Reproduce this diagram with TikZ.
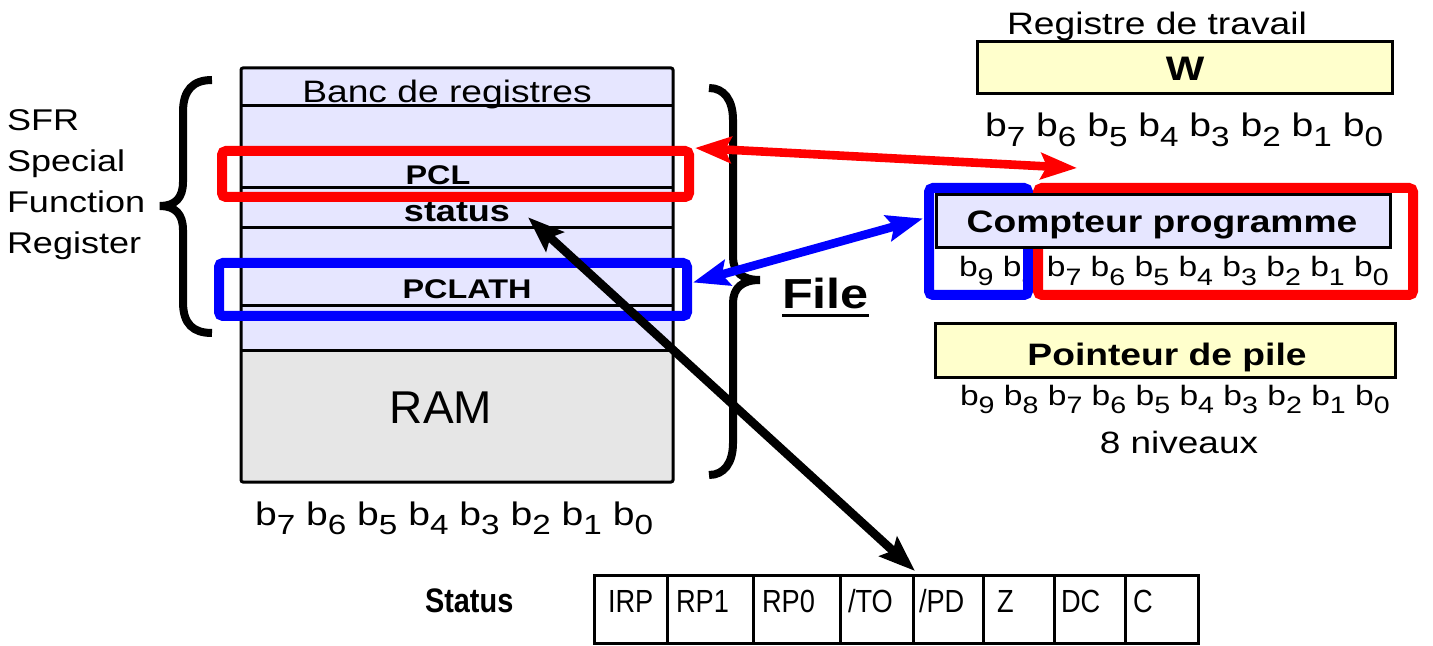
\documentclass[tikz,border=0pt]{standalone}
\usepackage{fontspec}
\usepackage{graphicx}
\setmainfont{Liberation Sans}[FakeStretch=1.2]
\newfontfamily\narrowfont{Liberation Sans}[FakeStretch=0.85]
\newfontfamily\plainfont{Liberation Sans}
\usetikzlibrary{arrows.meta,fit,calc}
\definecolor{lav}{HTML}{E6E6FF}
\definecolor{ramgrey}{HTML}{E6E6E6}
\definecolor{lightyel}{HTML}{FFFFCC}
\definecolor{pured}{HTML}{FF0000}
\definecolor{pureblue}{HTML}{0000FF}
% a bit name: b with its index as a subscript
\newcommand\bitb[1]{b\raisebox{-0.3em}{\scalebox{0.85}{#1}}}
\newcommand\fs[1]{\fontsize{#1pt}{#1pt}\selectfont}

\begin{document}
\begin{tikzpicture}[x=0.5pt,y=-0.5pt,
  txt/.style={inner sep=0pt, outer sep=0pt},
  regbox/.style={draw, line width=1.5pt, inner sep=0pt, outer sep=0pt},
  zone/.style={fill=#1, inner sep=0pt, outer sep=0pt},
  hilite/.style={draw=#1, line width=5pt, rounded corners=2pt, inner sep=0pt, outer sep=0pt},
  curly/.style={line width=4pt},
  rowsep/.style={line width=1.5pt},
  link/.style={draw=#1, line width=4.3pt,
    {Stealth[length=18pt,width=13pt,inset=3pt]}-{Stealth[length=18pt,width=13pt,inset=3pt]}},
]
\useasboundingbox (0,0) rectangle (1433,646);

% ---- register file ----
\node[zone=lav, fit={(241,68)(673,350)}] (sfrzone) {};
\node[zone=ramgrey, fit={(241,350)(673,482)}] (ramzone) {};
\node[regbox, rounded corners=1pt, fit={(241,68)(673,482)}] (banc) {};
\foreach \yy in {106,188,228,306,350}
  \draw[rowsep] (241,\yy) -- (673,\yy);

\node[txt, anchor=base, font=\fs{15.5}] (banctitle) at (447,103) {Banc de registres};
\node[txt, anchor=base, font=\bfseries\fs{13.5}] (pcl) at (438,185) {PCL};
\node[txt, anchor=base, font=\bfseries\fs{15}] (status) at (457,222) {status};
\node[txt, anchor=base, font=\bfseries\fs{13.5}] (pclath) at (467,299) {PCLATH};
\node[txt, anchor=base, font=\plainfont\fs{23}] (ram) at (441,423) {RAM};
\node[txt, anchor=base west, font=\fs{16.3}] (bancbits) at (255,525)
  {\bitb7 \bitb6 \bitb5 \bitb4 \bitb3 \bitb2 \bitb1 \bitb0};

% ---- left brace and SFR label ----
\draw[curly] (212,80) .. controls (193,80) and (183,90) .. (183,112) -- (183,182)
  .. controls (183,198) and (175,206) .. (160,206)
  .. controls (175,206) and (183,214) .. (183,230) -- (183,302)
  .. controls (183,324) and (193,333) .. (212,333);
\node[txt, anchor=north west, align=left, font=\fontsize{15pt}{20.5pt}\selectfont] (sfr) at (7,110)
  {SFR\\Special\\Function\\Register};

% ---- right brace and File label ----
\draw[curly] (709,88) .. controls (724,88) and (733,100) .. (733,120) -- (733,257)
  .. controls (733,272) and (742,280) .. (760,280)
  .. controls (742,280) and (733,288) .. (733,303) -- (733,443)
  .. controls (733,463) and (724,475) .. (709,475);
\node[txt, anchor=base west, font=\bfseries\fs{21}] (file) at (782,308) {File};
\draw[line width=1.5pt] ([yshift=-4pt]file.base west) -- ([yshift=-4pt]file.base east);

% ---- working register ----
\node[txt, anchor=base, font=\fs{15.5}] (wtitle) at (1157,35) {Registre de travail};
\node[regbox, fill=lightyel, fit={(977,42)(1392,94)}] (wbox) {};
\node[txt, anchor=base, font=\bfseries\fs{17}] (wlabel) at (1185,81) {W};
\node[txt, anchor=base west, font=\fs{16.3}] (wbits) at (985,137)
  {\bitb7 \bitb6 \bitb5 \bitb4 \bitb3 \bitb2 \bitb1 \bitb0};

% ---- program counter: bits, high/low frames, then the labelled box on top ----
\node[txt, anchor=base west, font=\fs{14}] (pcbits) at (959,277)
  {\bitb9 \bitb8 \bitb7 \bitb6 \bitb5 \bitb4 \bitb3 \bitb2 \bitb1 \bitb0};
\node[hilite=pureblue, fit={(929,188)(1028,295)}] (pchigh) {};
\node[hilite=pured, fit={(1038,188)(1413,295)}] (pclow) {};
\node[regbox, fill=lav, fit={(936,195)(1390,248)}] (pcbox) {};
\node[txt, anchor=base, font=\bfseries\fs{15.5}] (pclabel) at (1162,233) {Compteur programme};

% ---- stack pointer ----
\node[regbox, fill=lightyel, fit={(935,324)(1395,377)}] (spbox) {};
\node[txt, anchor=base, font=\bfseries\fs{15.5}] (splabel) at (1167,365) {Pointeur de pile};
\node[txt, anchor=base west, font=\fs{14}] (spbits) at (960,405)
  {\bitb9 \bitb8 \bitb7 \bitb6 \bitb5 \bitb4 \bitb3 \bitb2 \bitb1 \bitb0};
\node[txt, anchor=base, font=\fs{15.4}] (levels) at (1179,453) {8 niveaux};

% ---- highlighted rows of the register file ----
\node[hilite=pured, fit={(222,151)(689,197)}] (pclsel) {};
\node[hilite=pureblue, fit={(219,263)(687,316)}] (pclathsel) {};

% ---- status register bits ----
\node[txt, anchor=base west, font=\narrowfont\bfseries\fs{17}] (statuslbl) at (425,612) {Status};
\foreach \xa/\xb/\xt/\lbl/\nm in {594/667/608/IRP/irp, 667/753/676/RP1/rpone,
    753/840/762/RP0/rpzero, 840/913/848/{/TO}/to, 913/983/919/{/PD}/pd,
    983/1054/997/Z/zf, 1054/1125/1061/DC/dc, 1125/1198/1133/C/cf} {
  \node[regbox, fit={(\xa,575)(\xb,643)}] (\nm) {};
  \node[txt, anchor=base west, font=\narrowfont\fs{16}] (\nm-txt) at (\xt,612) {\lbl};
}

% ---- connectors ----
\coordinate (wtarget) at (1077,168);
\draw[link=pured] ([xshift=3pt,yshift=1.5pt]pclsel.north east) -- (wtarget);
\draw[link=pureblue] ([xshift=3pt,yshift=3.5pt]pclathsel.east) -- ([xshift=-3pt,yshift=11.5pt]pchigh.west);
\draw[link=black] ([xshift=9pt,yshift=2.5pt]status.south east) -- ([xshift=1pt,yshift=2pt]pd.north west);
\end{tikzpicture}
\end{document}
